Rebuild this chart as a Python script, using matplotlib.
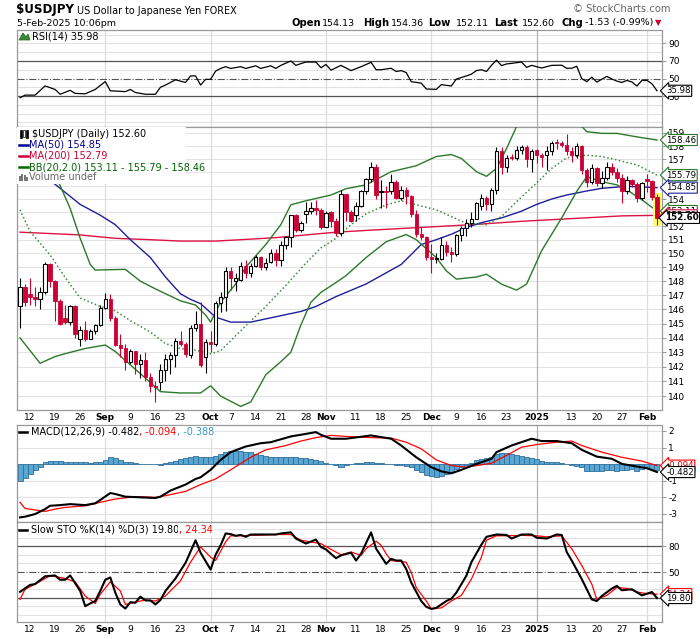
import numpy as np
import pandas as pd
import matplotlib
matplotlib.use('Agg')
import matplotlib.pyplot as plt
from matplotlib.patches import Rectangle, Polygon
from matplotlib.ticker import FixedLocator, FixedFormatter, NullLocator

plt.rcParams['font.family'] = ['DejaVu Sans']

# ---------------- data ----------------
# forex trading days, Christmas and New Year's Day are not on the chart
dates = pd.bdate_range('2024-08-08', '2025-02-05')
dates = dates[~dates.isin(pd.to_datetime(['2024-12-25', '2025-01-01']))]
days = np.arange(len(dates))

opens = [146.2, 147.6, 147.1, 146.85, 146.75, 147.2, 149.2, 148.0, 146.6, 145.4,
         145.1, 146.2, 143.95, 144.55, 143.95, 144.45, 144.9, 146.1, 146.75, 145.4,
         143.5, 143.3, 142.3, 143.1, 142.2, 142.45, 141.3, 140.7, 140.95, 141.8,
         142.5, 142.8, 143.8, 143.6, 142.8, 144.7, 145.0, 142.7, 143.7, 143.6,
         146.45, 146.9, 148.7, 148.0, 148.1, 149.1, 148.6, 149.1, 149.75, 149.0,
         149.4, 150.0, 149.5, 150.6, 151.2, 152.8, 151.7, 152.9, 153.1, 153.3,
         153.2, 151.9, 153.0, 152.4, 151.5, 154.35, 153.0, 152.8, 153.5, 154.6,
         155.5, 156.4, 154.5, 154.6, 154.6, 155.3, 154.1, 154.7, 154.2, 152.9,
         151.4, 151.2, 149.75, 149.6, 149.6, 150.6, 150.1, 149.95, 151.35, 151.85,
         152.25, 152.55, 153.5, 154.1, 153.6, 154.7, 157.6, 156.4, 157.2, 157.05,
         157.7, 157.9, 157.0, 157.7, 157.3, 157.3, 157.6, 158.3, 158.2, 158.05,
         157.65, 157.3, 158.0, 156.2, 155.3, 156.3, 155.2, 155.6, 156.4, 156.05,
         155.6, 154.6, 155.4, 155.1, 154.1, 155.5, 155.35, 154.13]
highs = [148.2, 147.8, 148.2, 147.6, 147.6, 149.4, 149.3, 148.1, 146.7, 146.3,
         146.3, 146.3, 144.8, 145.2, 144.6, 145.0, 146.3, 147.15, 147.1, 145.5,
         144.3, 143.6, 143.2, 143.1, 142.9, 143.0, 141.6, 141.0, 142.2, 142.9,
         143.0, 144.0, 144.5, 143.7, 144.9, 145.9, 146.5, 143.9, 144.5, 146.6,
         147.2, 149.0, 149.0, 148.6, 149.4, 149.5, 149.3, 149.9, 149.8, 149.7,
         150.3, 150.3, 150.9, 151.3, 152.8, 152.9, 152.4, 153.8, 153.8, 153.9,
         153.3, 153.1, 153.1, 152.6, 154.7, 154.4, 153.2, 153.8, 154.7, 155.6,
         156.75, 156.6, 155.4, 155.0, 155.9, 155.4, 155.0, 154.9, 154.3, 153.2,
         151.9, 151.3, 150.7, 150.0, 151.2, 150.9, 150.5, 151.4, 152.0, 152.5,
         153.0, 153.8, 154.4, 154.2, 154.8, 157.9, 157.9, 157.3, 157.4, 158.0,
         158.1, 158.1, 157.8, 157.8, 157.5, 158.0, 158.4, 158.55, 158.4, 158.9,
         157.9, 158.2, 158.1, 156.3, 156.6, 156.4, 156.1, 156.8, 156.7, 156.3,
         155.9, 155.7, 155.5, 155.3, 155.3, 155.9, 155.4, 154.36]
lows = [144.7, 146.2, 146.3, 146.2, 146.0, 147.1, 147.6, 145.2, 144.9, 145.0,
        144.9, 144.0, 143.4, 143.8, 143.9, 144.3, 144.8, 146.0, 145.2, 143.4,
        142.7, 141.8, 142.2, 141.5, 141.2, 141.0, 140.3, 139.6, 140.4, 141.0,
        141.5, 142.0, 143.4, 142.7, 142.6, 144.5, 142.0, 141.6, 143.0, 143.4,
        145.8, 145.9, 147.4, 147.3, 148.0, 148.2, 148.3, 149.0, 148.8, 148.8,
        149.3, 149.1, 149.1, 150.3, 150.5, 151.6, 151.6, 152.2, 152.9, 152.8,
        151.8, 151.9, 151.9, 151.3, 151.3, 152.4, 152.3, 152.4, 153.4, 154.4,
        155.3, 154.0, 153.3, 153.3, 154.4, 154.0, 153.9, 153.6, 152.7, 151.2,
        151.0, 149.5, 148.6, 149.3, 149.5, 149.8, 149.4, 149.8, 150.9, 151.3,
        151.9, 152.5, 153.2, 153.2, 153.1, 154.4, 155.9, 156.0, 156.9, 156.9,
        157.4, 156.4, 156.0, 156.7, 156.4, 156.2, 157.3, 157.8, 157.9, 157.3,
        156.8, 157.1, 155.9, 154.9, 155.1, 155.0, 154.8, 155.4, 155.8, 155.3,
        153.7, 154.4, 154.9, 153.8, 153.9, 154.5, 153.9, 152.11]
closes = [147.6, 146.5, 146.85, 146.75, 147.2, 149.2, 148.0, 146.6, 145.0, 145.1,
          146.2, 144.3, 144.55, 143.95, 144.45, 144.9, 146.1, 146.75, 145.4, 143.5,
          143.3, 142.3, 143.1, 142.2, 142.45, 141.3, 140.7, 140.6, 141.8, 142.5,
          142.8, 143.8, 143.6, 142.9, 144.7, 145.0, 142.1, 143.7, 143.6, 146.45,
          146.9, 148.7, 148.2, 148.25, 149.1, 148.6, 149.1, 149.75, 149.0, 149.3,
          150.0, 149.5, 150.6, 151.2, 152.8, 151.7, 152.2, 153.1, 153.3, 153.2,
          151.9, 152.97, 152.4, 151.5, 154.35, 153.0, 152.4, 153.5, 154.6, 155.5,
          156.4, 154.3, 154.6, 154.55, 155.3, 154.1, 154.7, 154.2, 152.9, 151.4,
          151.2, 149.75, 149.6, 149.65, 150.6, 150.1, 149.95, 151.35, 151.85, 152.25,
          152.55, 153.7, 154.1, 153.6, 154.7, 157.6, 156.4, 157.1, 157.05, 157.7,
          157.9, 157.0, 157.6, 157.3, 157.15, 157.6, 158.2, 158.2, 158.05, 157.65,
          157.3, 158.0, 156.2, 155.3, 156.3, 155.2, 155.6, 156.4, 156.05, 155.6,
          154.6, 155.4, 155.1, 154.1, 155.2, 155.35, 154.15, 152.60]

ma50_day = [0, 7, 10, 12, 16, 19, 22, 26, 29, 32, 34, 36, 39, 42, 46, 52, 56, 59, 63, 66, 69, 73, 76,
            80, 83, 86, 89, 92, 96, 100, 103, 106, 109, 113, 116, 121, 127]
ma50_val = [157.0, 155.1, 154.2, 153.6, 152.8, 152.1, 151.0, 149.7, 148.3, 147.1, 146.7, 146.4, 145.45,
            145.1, 145.1, 145.55, 145.85, 146.2, 146.9, 147.35, 147.8, 148.6, 149.2, 150.65, 151.0,
            151.4, 151.9, 152.25, 152.6, 153.1, 153.6, 154.0, 154.3, 154.6, 154.8, 154.95, 154.85]
ma200_day = [0, 12, 19, 26, 32, 39, 44, 51, 57, 63, 70, 80, 90, 100, 110, 120, 127]
ma200_val = [151.55, 151.35, 151.1, 151.0, 150.9, 150.9, 151.0, 151.15, 151.35, 151.55, 151.7, 151.9,
             152.1, 152.35, 152.55, 152.75, 152.79]
bbu_day = [0, 4, 8, 10, 12, 14, 15, 21, 24, 27, 32, 35, 37, 38, 39, 40, 43, 45, 49, 52, 54, 57, 62, 65,
           69, 74, 79, 83, 86, 88, 91, 93, 95, 97, 99, 102, 106, 110, 112, 113, 116, 119, 123, 127]
bbu_val = [160.5, 158.2, 155.0, 153.3, 151.1, 149.2, 148.8, 148.85, 148.0, 147.45, 146.6, 146.3, 145.6,
           145.1, 145.8, 146.5, 147.8, 149.0, 150.65, 152.1, 153.57, 153.87, 154.3, 154.77, 155.06,
           156.05, 156.5, 157.2, 157.35, 157.05, 156.05, 155.7, 156.3, 157.8, 159.5, 160.4, 160.6,
           160.0, 159.5, 159.1, 158.97, 158.97, 158.7, 158.46]
bbm_day = [0, 2, 6, 9, 12, 16, 19, 22, 26, 29, 32, 35, 38, 40, 44, 49, 53, 57, 60, 63, 66, 69, 73, 76,
           79, 83, 86, 89, 93, 96, 99, 103, 106, 109, 113, 116, 119, 123, 127]
bbm_val = [153.2, 151.6, 149.9, 148.27, 146.8, 146.2, 145.9, 145.2, 144.4, 143.6, 143.26, 143.15, 142.9,
           143.1, 144.5, 146.2, 147.7, 149.3, 150.4, 151.1, 152.1, 152.9, 153.57, 153.87, 153.57, 153.2,
           152.7, 152.2, 152.1, 152.7, 153.8, 155.2, 156.3, 157.1, 157.3, 157.2, 156.94, 156.56, 155.79]
bbl_day = [0, 4, 7, 9, 13, 17, 19, 22, 25, 28, 32, 36, 38, 40, 44, 46, 49, 52, 54, 56, 58, 60, 63, 65,
           69, 73, 77, 79, 83, 85, 87, 91, 93, 96, 99, 101, 104, 108, 111, 113, 116, 119, 121, 124, 127]
bbl_val = [144.0, 142.24, 142.7, 142.9, 143.26, 143.5, 143.05, 142.13, 141.22, 140.3, 140.21, 140.21,
           140.7, 140.0, 139.3, 139.6, 141.45, 142.35, 143.0, 144.9, 146.5, 147.2, 147.9, 148.4, 149.7,
           150.85, 151.38, 151.0, 149.7, 148.74, 148.15, 148.3, 148.5, 147.79, 147.36, 147.79, 150.2,
           152.6, 154.57, 155.68, 155.3, 155.06, 154.69, 153.94, 153.11]

rsi_day = [0, 1, 3, 5, 7, 8, 10, 11, 13, 15, 17, 18, 21, 22, 23, 25, 27, 28, 29, 31, 33, 34, 35, 36, 37,
           38, 39, 40, 41, 42, 44, 45, 47, 48, 50, 51, 52, 54, 55, 56, 57, 59, 60, 61, 62, 64, 66, 68,
           70, 71, 72, 74, 75, 76, 77, 78, 80, 81, 83, 84, 86, 87, 89, 90, 91, 92, 93, 94, 95, 96, 97,
           98, 100, 101, 102, 104, 106, 108, 109, 110, 111, 112, 113, 114, 115, 117, 118, 119, 120, 121,
           122, 123, 124, 125, 126, 127]
rsi_val = [28, 31, 31, 41.5, 37.5, 32, 36.5, 33, 32.5, 37.5, 46.5, 36, 35, 37.5, 34, 32, 32, 40, 42.5,
           48.5, 45.5, 53, 53, 42.5, 49, 49, 58.5, 61.5, 63.5, 61.5, 63.5, 61.5, 64.5, 61.5, 64.5, 61.5,
           65, 70, 65, 67, 68.8, 68.8, 62.3, 66, 59.5, 65, 59, 63.5, 68.5, 60, 60, 61.7, 58, 59, 56.8,
           46.4, 44.7, 38, 37.6, 43, 41.4, 49.4, 52.9, 55, 59, 60, 58, 65, 71, 64.7, 66.6, 67.3, 68.8,
           62.7, 65, 62, 65, 65.2, 61.7, 61.7, 64, 49.8, 46.4, 51.5, 45.9, 52.4, 49.5, 47, 45.5, 47.8,
           46, 41.4, 47.8, 47.8, 44, 35.98]

macd_day = [0, 1, 3, 5, 6, 8, 10, 13, 15, 16, 18, 19, 21, 24, 27, 28, 30, 33, 35, 36, 38, 40, 42, 45,
            48, 50, 54, 56, 59, 60, 62, 65, 70, 74, 76, 79, 82, 84, 86, 88, 91, 94, 95, 98, 102, 104,
            107, 110, 112, 115, 118, 120, 123, 125, 127]
macd_val = [-3.22, -3.18, -3.02, -2.72, -2.52, -2.48, -2.42, -2.48, -2.37, -2.17, -1.75, -1.81, -1.97,
            -2.01, -2.05, -1.97, -1.6, -1.24, -0.9, -0.8, -0.35, 0.25, 0.72, 1.06, 1.26, 1.32, 1.67,
            1.77, 1.93, 1.77, 1.53, 1.53, 1.73, 1.53, 1.12, 0.41, -0.19, -0.44, -0.56, -0.35, 0.01,
            0.32, 0.72, 1.12, 1.53, 1.39, 1.39, 1.26, 0.86, 0.45, 0.32, 0.01, -0.15, -0.25, -0.482]
sig_day = [0, 1, 5, 7, 9, 13, 16, 19, 23, 27, 29, 33, 36, 39, 42, 46, 49, 53, 56, 59, 62, 65, 70, 74,
           77, 80, 83, 86, 89, 94, 97, 100, 103, 107, 110, 112, 116, 120, 124, 127]
sig_val = [-2.31, -2.68, -2.86, -2.72, -2.62, -2.52, -2.31, -2.11, -1.97, -2.01, -1.91, -1.65, -1.24,
           -0.9, -0.35, 0.41, 0.86, 1.12, 1.39, 1.6, 1.73, 1.67, 1.6, 1.57, 1.32, 0.92, 0.25, -0.09,
           -0.19, 0.05, 0.52, 1.02, 1.18, 1.32, 1.39, 1.12, 0.72, 0.41, 0.18, -0.094]
hist_val = [-1.0, -0.85, -0.6, -0.35, -0.2, 0.1, 0.2, 0.2, 0.2, 0.15,
            0.12, 0.15, 0.12, 0.12, 0.08, 0.1, 0.15, 0.25, 0.45, 0.35,
            0.25, 0.15, 0.1, 0.05, 0.03, 0.01, 0.0, -0.02, -0.05, 0.05,
            0.1, 0.18, 0.3, 0.35, 0.4, 0.5, 0.45, 0.45, 0.45, 0.5,
            0.6, 0.7, 0.8, 0.8, 0.8, 0.75, 0.7, 0.6, 0.55, 0.5,
            0.45, 0.45, 0.4, 0.4, 0.4, 0.4, 0.35, 0.35, 0.3, 0.25,
            0.2, 0.05, 0.0, -0.05, -0.15, -0.05, 0.0, 0.05, 0.08, 0.1,
            0.15, 0.08, 0.05, 0.02, 0.0, -0.03, -0.05, -0.1, -0.2, -0.35,
            -0.5, -0.65, -0.75, -0.8, -0.7, -0.6, -0.45, -0.3, -0.15, -0.05,
            0.05, 0.25, 0.3, 0.35, 0.45, 0.6, 0.65, 0.65, 0.6, 0.55,
            0.5, 0.45, 0.35, 0.3, 0.2, 0.15, 0.15, 0.1, 0.05, 0.0,
            -0.05, -0.1, -0.2, -0.4, -0.4, -0.4, -0.4, -0.35, -0.35, -0.4,
            -0.35, -0.35, -0.3, -0.4, -0.3, -0.25, -0.3, -0.388]

stok_day = [0, 1, 2, 3, 5, 7, 8, 9, 10, 12, 13, 14, 15, 16, 17, 18, 19, 20, 21, 22, 23, 24, 25, 26, 27,
            28, 29, 31, 33, 35, 36, 38, 39, 40, 41, 42, 43, 44, 45, 46, 49, 51, 52, 54, 55, 57, 59, 60,
            61, 63, 64, 66, 67, 68, 70, 71, 73, 74, 75, 76, 77, 78, 80, 81, 82, 83, 85, 86, 87, 89, 90,
            92, 93, 95, 97, 98, 100, 102, 103, 105, 107, 108, 109, 110, 112, 114, 115, 116, 118, 119,
            120, 122, 124, 126, 127]
stok_val = [27, 31, 35, 36, 45, 46, 41, 41, 46, 28, 10.4, 13.5, 16.3, 28, 41, 43.7, 26, 12.4, 7.6, 15,
            14.3, 21.4, 17, 17, 12.4, 17.5, 28, 42.5, 60.6, 86.8, 72.4, 52.8, 70, 81, 94.7, 94, 92, 93,
            90.8, 93.5, 93.5, 93.5, 94.7, 96, 88.8, 83, 87.6, 79, 76.2, 66, 69.3, 72.4, 63.3, 71.2, 96,
            77, 59.4, 65.3, 63.3, 63.3, 53.5, 37.8, 16.3, 9.6, 7.2, 8.4, 16.3, 19, 26.1, 45.7, 61.4,
            81.8, 90.8, 93.5, 93, 88.8, 93.5, 93.5, 89.8, 88.8, 93.5, 93, 73.2, 63.3, 41.8, 18.2, 16.3,
            22.2, 30.8, 33.9, 28.8, 30, 22.9, 26.8, 19.8]
stod_day = [0, 1, 3, 6, 8, 9, 11, 13, 15, 16, 18, 20, 21, 23, 25, 27, 29, 32, 34, 36, 38, 39, 41, 42,
            44, 46, 51, 54, 56, 58, 60, 62, 64, 66, 68, 69, 71, 72, 73, 74, 77, 78, 79, 81, 82, 84, 86,
            88, 90, 92, 93, 95, 97, 100, 103, 105, 108, 110, 112, 114, 115, 117, 119, 121, 123, 125, 127]
stod_val = [18.2, 30, 35.9, 45.7, 43.7, 42.5, 38.6, 22.2, 13.5, 24.1, 38.6, 28, 12.4, 15.1, 17.5, 16.3,
            22.2, 39.8, 61.4, 79, 67.3, 63.3, 85, 92, 92, 92.5, 93.5, 93.5, 86.8, 84.9, 82.9, 76.2, 70,
            73.2, 69.3, 77, 85.7, 81, 71.2, 63.3, 61.4, 49.6, 32, 16.3, 7.2, 8.4, 16.3, 22.9, 41.8, 67.3,
            86.8, 92, 92, 92.5, 92, 90.8, 92, 77, 57.5, 35.9, 18.2, 22.9, 32, 31, 26.8, 24.9, 24.34]

tick_dates = ['2024-08-12', '2024-08-19', '2024-08-26', '2024-09-02', '2024-09-09', '2024-09-16',
              '2024-09-23', '2024-10-01', '2024-10-07', '2024-10-14', '2024-10-21', '2024-10-28',
              '2024-11-01', '2024-11-11', '2024-11-18', '2024-11-25', '2024-12-02', '2024-12-09',
              '2024-12-16', '2024-12-23', '2025-01-02', '2025-01-13', '2025-01-20', '2025-01-27',
              '2025-02-03']
tick_labels = ['12', '19', '26', 'Sep', '9', '16', '23', 'Oct', '7', '14', '21', '28', 'Nov', '11',
               '18', '25', 'Dec', '9', '16', '23', '2025', '13', '20', '27', 'Feb']
month_dates = ['2024-09-02', '2024-10-01', '2024-11-01', '2024-12-02', '2025-01-02', '2025-02-03']

# ---------------- layout ----------------
W, H = 700, 639
fig = plt.figure(figsize=(7, 6.39), dpi=100)
fig.patch.set_facecolor('white')


def fx(px):
    return px / W


def fy(py):
    return 1 - py / H


L, R = 17, 662


def panel(top, bottom):
    return fig.add_axes([fx(L), fy(bottom), fx(R) - fx(L), (bottom - top) / H])


ax_rsi = panel(30, 127)
ax = panel(127, 410)
ax_macd = panel(425, 522)
ax_sto = panel(522, 622)

tick_pos = [dates.get_loc(pd.Timestamp(d)) for d in tick_dates]
month_pos = [dates.get_loc(pd.Timestamp(d)) for d in month_dates]

RED = '#cc0033'
GREEN = '#2a7a2a'
NAVY = '#1f1f9a'
GRID = '#e2e2e2'
FRAME = '#999999'

for a in (ax_rsi, ax, ax_macd, ax_sto):
    a.set_xlim(-0.6, 128)
    a.set_facecolor('white')
    for s in a.spines.values():
        s.set_color(FRAME)
        s.set_linewidth(0.9)
    for p in month_pos:
        a.axvline(p, color='#b0b0b0' if p == month_pos[4] else '#dddddd', lw=0.9, zorder=0.5)
    a.yaxis.tick_right()
    a.tick_params(axis='y', which='both', length=3, width=0.6, color='#888888',
                  labelsize=6.5, pad=1.5)
    a.tick_params(axis='x', length=0, labelsize=6.5, pad=2)
    a.set_xticks(tick_pos)
    a.set_xticklabels(tick_labels)
    for lab in a.get_xticklabels():
        if not lab.get_text().isdigit() or lab.get_text() == '2025':
            lab.set_fontweight('bold')
for a in (ax_rsi, ax_macd):
    a.tick_params(axis='x', labelbottom=False)
ax.spines['bottom'].set_linestyle((0, (1, 1)))
ax_macd.spines['top'].set_linestyle((0, (1, 1)))

# ---------------- RSI ----------------
ax_rsi.set_ylim(-5.4, 105.4)
for v in range(0, 101, 10):
    if v not in (30, 50, 70):
        ax_rsi.axhline(v, color=GRID, lw=0.8, zorder=0.4)
ax_rsi.axhline(70, color='#555555', lw=0.9, zorder=1)
ax_rsi.axhline(30, color='#555555', lw=0.9, zorder=1)
ax_rsi.axhline(50, color='#555555', lw=0.8, ls='-.', zorder=1)
ax_rsi.plot(rsi_day, rsi_val, color='black', lw=0.9, zorder=3)
ax_rsi.set_yticks([90, 70, 50, 30])

# ---------------- price ----------------
ax.set_yscale('log')
ax.set_ylim(139.06, 159.46)
price_ticks = list(range(140, 160))
ax.yaxis.set_major_locator(FixedLocator(price_ticks))
ax.yaxis.set_major_formatter(FixedFormatter([str(v) for v in price_ticks]))
ax.yaxis.set_minor_locator(NullLocator())
for v in price_ticks:
    ax.axhline(v, color=GRID, lw=0.8, zorder=0.4)

ax.plot(ma200_day, ma200_val, color='#dd1144', lw=1.0, zorder=3)
ax.plot(ma50_day, ma50_val, color=NAVY, lw=1.0, zorder=3)
ax.plot(bbu_day, bbu_val, color=GREEN, lw=1.0, zorder=3)
ax.plot(bbl_day, bbl_val, color=GREEN, lw=1.0, zorder=3)
ax.plot(bbm_day, bbm_val, color='#3c8c3c', lw=1.1, ls=(0, (1, 1.6)), zorder=3)

# highlight of the last bar
ax.add_patch(Rectangle((days[-1] - 0.72, 152.0), 1.44, 2.42, fc='#ffff66', ec='none', zorder=3.5))

o, h, l, c = map(np.array, (opens, highs, lows, closes))
up = c >= o
lo_b, hi_b = np.minimum(o, c), np.maximum(o, c)
ax.vlines(days[up], l[up], h[up], color='black', lw=0.8, zorder=4)
ax.vlines(days[~up], l[~up], h[~up], color=RED, lw=0.8, zorder=4)
ax.bar(days[up], hi_b[up] - lo_b[up], bottom=lo_b[up], width=0.68, color='white',
       edgecolor='black', lw=0.8, zorder=5)
ax.bar(days[~up], hi_b[~up] - lo_b[~up], bottom=lo_b[~up], width=0.68, color=RED,
       edgecolor=RED, lw=0.6, zorder=5)

# legend area covers the lines behind it
ax.add_patch(Rectangle((0, 0.80), 0.262, 0.2, transform=ax.transAxes, fc='white', ec='none', zorder=6))

# ---------------- MACD ----------------
ax_macd.set_ylim(-3.5, 2.36)
for v in range(-3, 3):
    ax_macd.axhline(v, color=GRID, lw=0.8, zorder=0.4)
ax_macd.bar(days, hist_val, width=1.0, color='#5aa6d2', edgecolor='#2f6f9c', lw=0.6, zorder=2)
ax_macd.plot(sig_day, sig_val, color='#ff0000', lw=0.9, zorder=3)
ax_macd.plot(macd_day, macd_val, color='black', lw=1.5, zorder=4)
ax_macd.set_yticks([2, 1, 0, -1, -2, -3])
ax_macd.set_yticklabels(['2', '1', '0', '-1', '-2', '-3'])

# ---------------- Slow STO ----------------
ax_sto.set_ylim(-8, 108)
for v in range(0, 101, 10):
    if v not in (20, 50, 80):
        ax_sto.axhline(v, color=GRID, lw=0.8, zorder=0.4)
ax_sto.axhline(80, color='#555555', lw=0.9, zorder=1)
ax_sto.axhline(20, color='#555555', lw=0.9, zorder=1)
ax_sto.axhline(50, color='#555555', lw=0.8, ls='-.', zorder=1)
ax_sto.plot(stod_day, stod_val, color='#ff0000', lw=0.9, zorder=3)
ax_sto.plot(stok_day, stok_val, color='black', lw=1.5, zorder=4)
ax_sto.set_yticks([80, 50, 20])


# ---------------- value tags on the right ----------------
def tag(a, val, text, ec, tc='black', bold=False, size=6.2, z=8, off=3):
    a.annotate(text, xy=(1, val), xycoords=('axes fraction', 'data'), xytext=(off, 0),
               textcoords='offset points', ha='left', va='center', fontsize=size, color=tc,
               fontweight='bold' if bold else 'normal', annotation_clip=False, zorder=z,
               bbox=dict(boxstyle='larrow,pad=0.12', fc='white', ec=ec, lw=0.8))


tag(ax_rsi, 35.98, '35.98', 'black')
tag(ax, 158.46, '158.46', GREEN)
tag(ax, 155.79, '155.79', GREEN)
tag(ax, 154.85, '154.85', NAVY)
tag(ax, 153.11, '153.11', GREEN, z=8)
tag(ax, 152.79, '152.79', '#dd1144', z=9)
tag(ax, 152.60, '152.60', 'black', bold=True, size=6.3, z=10, off=2)
tag(ax_macd, -0.094, '-0.094', '#ff0000', tc='#cc0000', z=8)
tag(ax_macd, -0.482, '-0.482', 'black', z=9)
tag(ax_sto, 24.34, '24.34', '#ff0000', tc='#cc0000', z=8)
tag(ax_sto, 19.80, '19.80', 'black', z=9)

# ---------------- texts ----------------
renderer = fig.canvas.get_renderer()


def run(x, y, parts, size=6.8, bg=None):
    for s, col in parts:
        t = fig.text(fx(x), fy(y), s, color=col, fontsize=size, ha='left', va='center', zorder=20)
        if bg:
            t.set_bbox(dict(fc=bg, ec='none', pad=0.6))
        x += t.get_window_extent(renderer).width


fig.text(fx(16), fy(10), '$USDJPY', fontsize=8.6, fontweight='bold', va='center')
fig.text(fx(77), fy(10.5), 'US Dollar to Japanese Yen FOREX', fontsize=6.9, va='center')
fig.text(fx(17), fy(23), '5-Feb-2025 10:06pm', fontsize=6.8, va='center')
fig.text(fx(573), fy(9), '\u00a9 StockCharts.com', fontsize=7.2, color='#666666', va='center')
for x, s, bold in [(291, 'Open', True), (322, '154.13', False), (363, 'High', True),
                   (391, '154.36', False), (428, 'Low', True), (456, '152.11', False),
                   (494, 'Last', True), (522, '152.60', False), (561, 'Chg', True),
                   (585, '-1.53 (-0.99%)', False)]:
    fig.text(fx(x), fy(23), s, fontsize=7.2 if bold else 6.8,
             fontweight='bold' if bold else 'normal', va='center')
fig.text(fx(655), fy(23), '\u25bc', fontsize=6, color='#cc0033', va='center')

# RSI label with small mountain icon
fig.patches.append(Polygon([[fx(19), fy(40)], [fx(23), fy(33)], [fx(26), fy(37)], [fx(28), fy(34)],
                            [fx(30), fy(40)]], closed=True, fc='#3a8a3a', ec='#1f5f1f', lw=0.5,
                           transform=fig.transFigure, zorder=20))
run(32, 36.5, [('RSI(14) 35.98', 'black')], size=7)

# price legend
for k in range(3):
    fig.patches.append(Rectangle((fx(20 + 3.2 * k), fy(138 - k % 2)), fx(2), 8 / H - k % 2 / H,
                                 transform=fig.transFigure, fc='black' if k != 1 else 'white',
                                 ec='black', lw=0.5, zorder=20))
run(32, 134, [('$USDJPY (Daily) 152.60', 'black')], size=7)
for y, col, s in [(145, '#000099', 'MA(50) 154.85'), (156, '#cc0033', 'MA(200) 152.79'),
                  (167, '#006600', 'BB(20,2.0) 153.11 - 155.79 - 158.46')]:
    fig.add_artist(plt.Line2D([fx(19), fx(28)], [fy(y), fy(y)], color=col, lw=1.8,
                              transform=fig.transFigure, zorder=20))
    run(29, y, [(s, col)], size=7)
for k, hh in enumerate([5, 7, 6, 4]):
    fig.patches.append(Rectangle((fx(19 + 2.4 * k), fy(181)), fx(1.8), hh / H,
                                 transform=fig.transFigure, fc='#777777', ec='none', zorder=20))
run(29, 177, [('Volume undef', '#666666')], size=7)

# MACD legend
fig.add_artist(plt.Line2D([fx(19), fx(27)], [fy(432), fy(432)], color='black', lw=1.8,
                          transform=fig.transFigure, zorder=20))
run(31, 432, [('MACD(12,26,9) -0.482', 'black'), (', -0.094', '#ff0000'), (', -0.388', '#3399cc')],
    size=7, bg='white')

# STO legend
fig.add_artist(plt.Line2D([fx(19), fx(27)], [fy(530), fy(530)], color='black', lw=1.8,
                          transform=fig.transFigure, zorder=20))
run(31, 530, [('Slow STO %K(14) %D(3) 19.80', 'black'), (', 24.34', '#ff0000')], size=7, bg='white')

fig.savefig('out.png', dpi=100, facecolor='white')
